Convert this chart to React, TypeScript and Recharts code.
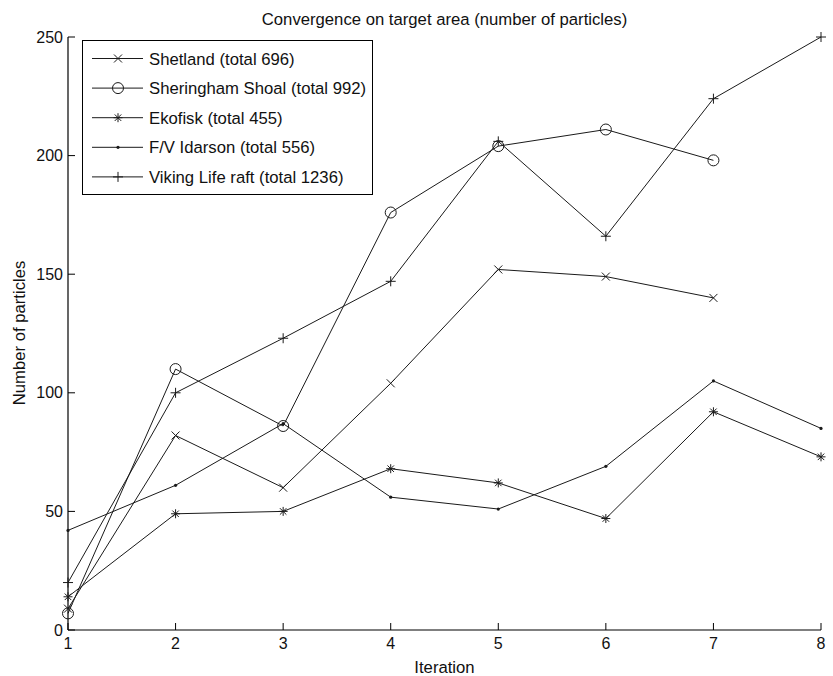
import React from 'react';
import { LineChart, Line, XAxis, YAxis, Legend } from 'recharts';

const iterations = [1, 2, 3, 4, 5, 6, 7, 8];
const shetland = [9, 82, 60, 104, 152, 149, 140];
const sheringham = [7, 110, 86, 176, 204, 211, 198];
const ekofisk = [14, 49, 50, 68, 62, 47, 92, 73];
const idarson = [42, 61, 87, 56, 51, 69, 105, 85];
const viking = [20, 100, 123, 147, 206, 166, 224, 250];
const xTicks = [1, 2, 3, 4, 5, 6, 7, 8];
const yTicks = [0, 50, 100, 150, 200, 250];

const seriesNames = [
  'Shetland (total 696)',
  'Sheringham Shoal (total 992)',
  'Ekofisk (total 455)',
  'F/V Idarson (total 556)',
  'Viking Life raft (total 1236)',
];
const seriesKeys = ['shetland', 'sheringham', 'ekofisk', 'idarson', 'viking'];
const seriesMarkers = ['x', 'o', '*', '.', '+'];
const seriesValues = [shetland, sheringham, ekofisk, idarson, viking];

const data = iterations.map((it, i) => {
  const row: any = { iter: it };
  seriesKeys.forEach((k, j) => {
    const v = seriesValues[j][i];
    row[k] = v === undefined ? null : v;
  });
  return row;
});

const FONT = '"Liberation Sans", Arial, Helvetica, sans-serif';
const LINE = '#1a1a1a';

function Marker({ type, cx, cy }: { type: string; cx: number; cy: number }) {
  const s = 4;
  switch (type) {
    case 'x':
      return (
        <g stroke={LINE} strokeWidth={1} fill="none">
          <line x1={cx - s} y1={cy - s} x2={cx + s} y2={cy + s} />
          <line x1={cx - s} y1={cy + s} x2={cx + s} y2={cy - s} />
        </g>
      );
    case 'o':
      return <circle cx={cx} cy={cy} r={5.5} stroke={LINE} strokeWidth={1} fill="none" />;
    case '*': {
      const d = 4.5;
      const e = d * 0.72;
      return (
        <g stroke={LINE} strokeWidth={1} fill="none">
          <line x1={cx - d} y1={cy} x2={cx + d} y2={cy} />
          <line x1={cx} y1={cy - d} x2={cx} y2={cy + d} />
          <line x1={cx - e} y1={cy - e} x2={cx + e} y2={cy + e} />
          <line x1={cx - e} y1={cy + e} x2={cx + e} y2={cy - e} />
        </g>
      );
    }
    case '.':
      return <circle cx={cx} cy={cy} r={1.6} fill={LINE} stroke="none" />;
    case '+':
    default: {
      const p = 5;
      return (
        <g stroke={LINE} strokeWidth={1} fill="none">
          <line x1={cx - p} y1={cy} x2={cx + p} y2={cy} />
          <line x1={cx} y1={cy - p} x2={cx} y2={cy + p} />
        </g>
      );
    }
  }
}

const makeDot = (type: string) => (props: any) => {
  const { cx, cy, value, index, key } = props;
  if (value === null || value === undefined || cx == null || cy == null) {
    return <g key={key ?? `e-${type}-${index}`} />;
  }
  return (
    <g key={key ?? `d-${type}-${index}`}>
      <Marker type={type} cx={cx} cy={cy} />
    </g>
  );
};

const BottomTick = (props: any) => {
  const { x, y, payload } = props;
  return (
    <g>
      <line x1={x} x2={x} y1={y} y2={y - 7} stroke="#000" strokeWidth={1} />
      <text x={x} y={y + 19} textAnchor="middle" fontFamily={FONT} fontSize={16} fill="#111">
        {payload.value}
      </text>
    </g>
  );
};

const TopTick = (props: any) => {
  const { x, y } = props;
  return <line x1={x} x2={x} y1={y} y2={y + 7} stroke="#000" strokeWidth={1} />;
};

const LeftTick = (props: any) => {
  const { x, y, payload } = props;
  return (
    <g>
      <line x1={x} x2={x + 7} y1={y} y2={y} stroke="#000" strokeWidth={1} />
      <text x={x - 5} y={y + 5.5} textAnchor="end" fontFamily={FONT} fontSize={16} fill="#111">
        {payload.value}
      </text>
    </g>
  );
};

const RightTick = (props: any) => {
  const { x, y } = props;
  return <line x1={x} x2={x - 7} y1={y} y2={y} stroke="#000" strokeWidth={1} />;
};

const LegendBox = () => {
  const w = 291;
  const h = 155;
  return (
    <svg width={w} height={h} style={{ display: 'block' }}>
      <rect x={0.5} y={0.5} width={w - 1} height={h - 1} fill="#fff" stroke="#000" strokeWidth={1} />
      {seriesNames.map((name, i) => {
        const cy = 18.5 + i * 29.6;
        return (
          <g key={name}>
            <line x1={10} x2={61} y1={cy} y2={cy} stroke={LINE} strokeWidth={1} />
            <Marker type={seriesMarkers[i]} cx={36} cy={cy} />
            <text x={67} y={cy + 6} fontFamily={FONT} fontSize={16.7} fill="#111">
              {name}
            </text>
          </g>
        );
      })}
    </svg>
  );
};

export default function App() {
  return (
    <div style={{ position: 'absolute', left: 0, top: 0, background: '#fff' }}>
      <LineChart
        width={833}
        height={676}
        data={data}
        margin={{ top: 37, right: 12, bottom: 0, left: 0 }}
      >
        <XAxis
          dataKey="iter"
          type="number"
          domain={[1, 8]}
          ticks={xTicks}
          height={46}
          tickSize={0}
          tickMargin={0}
          tickLine={false}
          axisLine={{ stroke: '#000', strokeWidth: 1.2 }}
          tick={BottomTick}
          interval={0}
        />
        <XAxis
          xAxisId="top"
          orientation="top"
          dataKey="iter"
          type="number"
          domain={[1, 8]}
          ticks={xTicks}
          height={0}
          tickSize={0}
          tickMargin={0}
          tickLine={false}
          axisLine={{ stroke: '#000', strokeWidth: 1.2 }}
          tick={TopTick}
          interval={0}
        />
        <YAxis
          type="number"
          domain={[0, 250]}
          ticks={yTicks}
          width={68}
          tickSize={0}
          tickMargin={0}
          tickLine={false}
          axisLine={{ stroke: '#000', strokeWidth: 1.2 }}
          tick={LeftTick}
          interval={0}
        />
        <YAxis
          yAxisId="right"
          orientation="right"
          type="number"
          domain={[0, 250]}
          ticks={yTicks}
          width={0}
          tickSize={0}
          tickMargin={0}
          tickLine={false}
          axisLine={{ stroke: '#000', strokeWidth: 1.2 }}
          tick={RightTick}
          interval={0}
        />
        {seriesKeys.map((k, i) => (
          <Line
            key={k}
            type="linear"
            dataKey={k}
            name={seriesNames[i]}
            stroke={LINE}
            strokeWidth={1}
            dot={makeDot(seriesMarkers[i])}
            activeDot={false}
            isAnimationActive={false}
            connectNulls={false}
          />
        ))}
        <Legend
          layout="horizontal"
          verticalAlign="middle"
          align="center"
          content={LegendBox}
          wrapperStyle={{ left: 82, top: 40, width: 291, height: 155 }}
        />
        <text x={444.5} y={25} textAnchor="middle" fontFamily={FONT} fontSize={16.7} fill="#111">
          Convergence on target area (number of particles)
        </text>
        <text x={444.5} y={673} textAnchor="middle" fontFamily={FONT} fontSize={16.7} fill="#111">
          Iteration
        </text>
        <text
          x={0}
          y={0}
          transform="translate(25 333) rotate(-90)"
          textAnchor="middle"
          fontFamily={FONT}
          fontSize={16.7}
          fill="#111"
        >
          Number of particles
        </text>
      </LineChart>
    </div>
  );
}
